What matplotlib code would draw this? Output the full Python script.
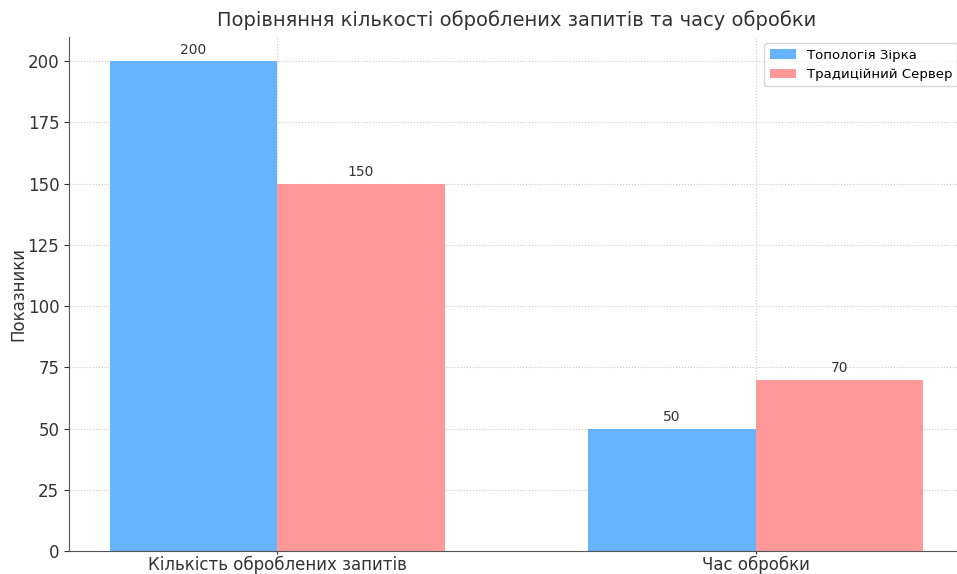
import matplotlib
import matplotlib.pyplot as plt
import numpy as np

matplotlib.use("Agg")

categories = ["Кількість оброблених запитів", "Час обробки"]
star_values = [200, 50]
server_values = [150, 70]
series_names = ["Топологія Зірка", "Традиційний Сервер"]
colors = ["#66b3ff", "#ff9999"]

fig = plt.figure(figsize=(9.57, 5.74), dpi=100)
ax = fig.add_axes([0.0721, 0.0401, 0.9352, 0.896])

x = np.arange(len(categories))
width = 0.35

bars1 = ax.bar(x - width / 2, star_values, width, label=series_names[0], color=colors[0])
bars2 = ax.bar(x + width / 2, server_values, width, label=series_names[1], color=colors[1])

for bars in (bars1, bars2):
    for b in bars:
        h = b.get_height()
        ax.annotate(f"{h}", xy=(b.get_x() + b.get_width() / 2, h),
                    xytext=(0, 3), textcoords="offset points",
                    ha="center", va="bottom", fontsize=10, color="#333333")

ax.set_title("Порівняння кількості оброблених запитів та часу обробки",
             fontsize=14, color="#333333", pad=8)
ax.set_ylabel("Показники", fontsize=12, color="#333333", labelpad=0)
ax.set_xticks(x)
ax.set_xticklabels(categories, fontsize=12, color="#333333")
ax.tick_params(axis="y", labelsize=12, colors="#333333")
ax.tick_params(axis="x", length=2, pad=1.5, colors="#333333")

ax.grid(True, linestyle=":", color="#cccccc", linewidth=0.8)
ax.set_axisbelow(True)
for s in ("top", "right"):
    ax.spines[s].set_visible(False)
for s in ("left", "bottom"):
    ax.spines[s].set_color("#555555")

ax.legend(loc="upper right", fontsize=9.5)

fig.savefig("out.png", dpi=100)
